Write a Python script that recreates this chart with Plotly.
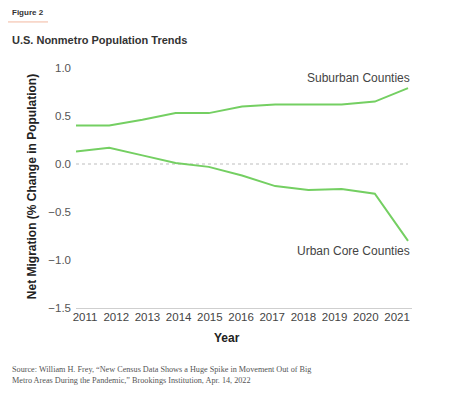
import plotly.graph_objects as go

years = [2011, 2012, 2013, 2014, 2015, 2016, 2017, 2018, 2019, 2020, 2021]
suburban = [0.40, 0.40, 0.46, 0.53, 0.53, 0.60, 0.62, 0.62, 0.62, 0.65, 0.79]
urban_core = [0.13, 0.17, 0.09, 0.01, -0.03, -0.12, -0.23, -0.27, -0.26, -0.31, -0.80]
tick_labels = [str(y) for y in years]
y_ticks = [1.0, 0.5, 0.0, -0.5, -1.0, -1.5]
y_tick_labels = ["1.0", "0.5", "0.0", "\u22120.5", "\u22121.0", "\u22121.5"]

GREEN = "#74cf62"
OFF = 8  # default page body margin
W, H = 450 - OFF, 393 - OFF
L, T = 76 - OFF, 68 - OFF
R = W - (412 - OFF)
B = H - (307.7 - OFF)
pw = W - L - R
ph = H - T - B

def px_x(x):
    return (x - OFF - L) / pw

def px_y(y):
    return 1 - (y - OFF - T) / ph

fig = go.Figure()
fig.add_trace(go.Scatter(x=[years[0], years[-1]], y=[0, 0], mode="lines",
                         line=dict(color="#bdbdbd", width=1, dash="dot"),
                         hoverinfo="skip", showlegend=False))
fig.add_trace(go.Scatter(x=years, y=suburban, mode="lines",
                         line=dict(color=GREEN, width=2), showlegend=False))
fig.add_trace(go.Scatter(x=years, y=urban_core, mode="lines",
                         line=dict(color=GREEN, width=2), showlegend=False))
fig.add_trace(go.Scatter(x=years, y=[None] * len(years), xaxis="x2",
                         mode="lines", showlegend=False, hoverinfo="skip"))

font_sans = "Liberation Sans, Arial, sans-serif"

fig.update_layout(
    width=W, height=H,
    margin=dict(l=L, r=R, t=T, b=B),
    paper_bgcolor="white", plot_bgcolor="white",
    font=dict(family=font_sans, color="#444", size=11),
    xaxis=dict(range=[2011, 2021.12], showgrid=False, zeroline=False,
               showticklabels=False, ticks="", showline=True,
               linecolor="#cfcfcf", linewidth=1),
    xaxis2=dict(range=[2010.71, 2021.48], overlaying="x", side="bottom",
                anchor="y", tickmode="array", tickvals=years,
                ticktext=tick_labels, showgrid=False, zeroline=False,
                showline=False, ticks="",
                tickfont=dict(size=11.5, color="#444", family=font_sans)),
    yaxis=dict(range=[-1.5, 1.0], tickmode="array", tickvals=y_ticks,
               ticktext=y_tick_labels, showgrid=False, zeroline=False,
               showline=False, ticks="", ticklabelstandoff=4,
               tickfont=dict(size=11.5, color="#555", family=font_sans)),
)

ann = []
ann.append(dict(text="<b>Figure 2</b>", x=px_x(10), y=px_y(13), xref="paper",
                yref="paper", xanchor="left", yanchor="middle", showarrow=False,
                font=dict(size=8, color="#333", family=font_sans)))
ann.append(dict(text="<b>U.S. Nonmetro Population Trends</b>", x=px_x(10),
                y=px_y(40), xref="paper", yref="paper", xanchor="left",
                yanchor="middle", showarrow=False,
                font=dict(size=11, color="#333", family=font_sans)))
ann.append(dict(text="<b>Net Migration (% Change in Population)</b>",
                x=px_x(32), y=px_y(187), xref="paper", yref="paper",
                xanchor="center", yanchor="middle", textangle=-90,
                showarrow=False, font=dict(size=12, color="#222", family=font_sans)))
ann.append(dict(text="<b>Year</b>", x=px_x(227), y=px_y(338), xref="paper",
                yref="paper", xanchor="center", yanchor="middle",
                showarrow=False, font=dict(size=12, color="#222", family=font_sans)))
ann.append(dict(text="Suburban Counties", x=px_x(412), y=px_y(78),
                xref="paper", yref="paper", xanchor="right", yanchor="middle",
                showarrow=False, font=dict(size=12, color="#444", family=font_sans)))
ann.append(dict(text="Urban Core Counties", x=px_x(412), y=px_y(251),
                xref="paper", yref="paper", xanchor="right", yanchor="middle",
                showarrow=False, font=dict(size=12, color="#444", family=font_sans)))
ann.append(dict(text="Source: William H. Frey, \u201cNew Census Data Shows a Huge Spike in Movement Out of Big<br>"
                     "Metro Areas During the Pandemic,\u201d Brookings Institution, Apr. 14, 2022",
                x=px_x(10), y=px_y(375), xref="paper", yref="paper",
                xanchor="left", yanchor="middle", align="left", showarrow=False,
                font=dict(size=8.2, color="#555", family="Liberation Serif, Times New Roman, serif")))
fig.update_layout(annotations=ann)

fig.add_shape(type="line", xref="paper", yref="paper",
              x0=px_x(8), x1=px_x(48), y0=px_y(22), y1=px_y(22),
              line=dict(color="#f2b8a0", width=1))

fig.write_html("out.html")
